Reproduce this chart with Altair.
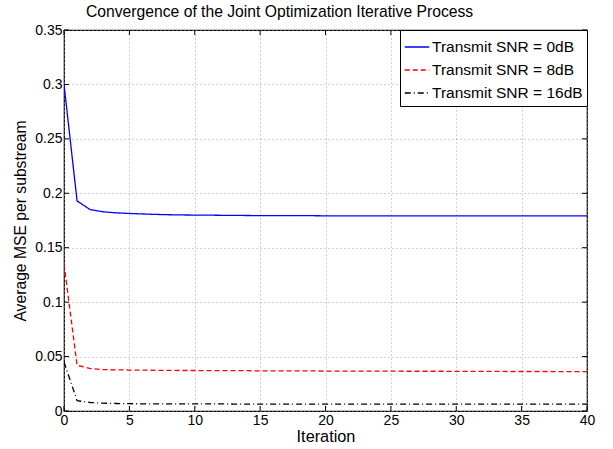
import altair as alt
import pandas as pd

iterations = list(range(41))
snr_0db = [0.300, 0.193, 0.185, 0.183, 0.182, 0.1815, 0.1810, 0.1806, 0.1803, 0.1801,
           0.1800, 0.1799, 0.1798, 0.1797, 0.1796, 0.1795, 0.1795, 0.1794, 0.1794, 0.1794,
           0.1793, 0.1793, 0.1793, 0.1793, 0.1793, 0.1793, 0.1793, 0.1793, 0.1793, 0.1793,
           0.1793, 0.1793, 0.1793, 0.1793, 0.1793, 0.1793, 0.1793, 0.1793, 0.1793, 0.1793, 0.1793]
snr_8db = [0.135, 0.042, 0.039, 0.038, 0.0378, 0.0376, 0.0375, 0.0374, 0.0373, 0.0372,
           0.0372, 0.0371, 0.0371, 0.0370, 0.0370, 0.0369, 0.0369, 0.0368, 0.0368, 0.0368,
           0.0367, 0.0367, 0.0367, 0.0366, 0.0366, 0.0366, 0.0365, 0.0365, 0.0365, 0.0365,
           0.0364, 0.0364, 0.0364, 0.0364, 0.0363, 0.0363, 0.0363, 0.0363, 0.0362, 0.0362, 0.0362]
snr_16db = [0.045, 0.0095, 0.0078, 0.0072, 0.0069, 0.0067, 0.0066, 0.0066, 0.0065, 0.0065,
            0.0065, 0.0065, 0.0065, 0.0064, 0.0064, 0.0064, 0.0064, 0.0064, 0.0064, 0.0064,
            0.0064, 0.0064, 0.0064, 0.0064, 0.0064, 0.0064, 0.0064, 0.0064, 0.0064, 0.0064,
            0.0064, 0.0064, 0.0064, 0.0064, 0.0064, 0.0064, 0.0064, 0.0064, 0.0064, 0.0064, 0.0064]
series_names = ["Transmit SNR = 0dB", "Transmit SNR = 8dB", "Transmit SNR = 16dB"]
series_colors = ["#0000ff", "#ff0000", "#000000"]
series_dashes = [[1, 0], [5, 3], [6, 3, 1, 3]]
x_ticks = list(range(0, 41, 5))
y_ticks = [0, 0.05, 0.1, 0.15, 0.2, 0.25, 0.3, 0.35]

rows = []
for name, vals in zip(series_names, [snr_0db, snr_8db, snr_16db]):
    for it, v in zip(iterations, vals):
        rows.append({"Iteration": it, "MSE": v, "Series": name})
df = pd.DataFrame(rows)
xt = pd.DataFrame({"Iteration": x_ticks})
yt = pd.DataFrame({"MSE": y_ticks})

FONT = "Liberation Sans"
W, H, TL = 523, 381, 5

xs = alt.Scale(domain=[0, 40], nice=False)
ys = alt.Scale(domain=[0, 0.35], nice=False)

lines = alt.Chart(df).mark_line(strokeWidth=1.3, clip=True).encode(
    x=alt.X("Iteration:Q", scale=xs,
            axis=alt.Axis(title="Iteration", values=x_ticks, format="d",
                          labelFlush=False, labelPadding=2, titlePadding=1,
                          titleFontSize=16.3)),
    y=alt.Y("MSE:Q", scale=ys,
            axis=alt.Axis(title="Average MSE per substream", values=y_ticks,
                          labelExpr="datum.value == 0 ? '0' : format(datum.value, '.2~f')",
                          labelPadding=2, titlePadding=6, titleFontSize=15.7)),
    color=alt.Color("Series:N", scale=alt.Scale(domain=series_names, range=series_colors),
                    legend=alt.Legend(title=None, orient="top-right", offset=0,
                                      strokeColor="black", fillColor="white",
                                      padding=4, symbolType="stroke", symbolSize=600,
                                      symbolStrokeWidth=1.3, labelFontSize=15.5,
                                      labelFont=FONT, labelColor="black", rowPadding=1,
                                      labelOffset=2, labelLimit=300)),
    strokeDash=alt.StrokeDash("Series:N", scale=alt.Scale(domain=series_names, range=series_dashes),
                              legend=None),
)

xtick_bot = alt.Chart(xt).mark_rule(color="black", strokeWidth=1).encode(
    x=alt.X("Iteration:Q", scale=xs), y=alt.value(H - TL), y2=alt.value(H))
xtick_top = alt.Chart(xt).mark_rule(color="black", strokeWidth=1).encode(
    x=alt.X("Iteration:Q", scale=xs), y=alt.value(0), y2=alt.value(TL))
ytick_l = alt.Chart(yt).mark_rule(color="black", strokeWidth=1).encode(
    y=alt.Y("MSE:Q", scale=ys), x=alt.value(0), x2=alt.value(TL))
ytick_r = alt.Chart(yt).mark_rule(color="black", strokeWidth=1).encode(
    y=alt.Y("MSE:Q", scale=ys), x=alt.value(W - TL), x2=alt.value(W))

chart = alt.layer(lines, xtick_bot, xtick_top, ytick_l, ytick_r).properties(
    width=W, height=H,
    title=alt.Title("Convergence of the Joint Optimization Iterative Process",
                    fontSize=15.7, font=FONT, fontWeight="normal", offset=7,
                    anchor="start", frame="group", dx=22, dy=5, color="black"),
    padding={"left": 64, "top": 30, "right": 26, "bottom": 38},
    autosize=alt.AutoSizeParams(type="none"),
).configure_view(
    stroke="black", strokeWidth=1.2
).configure_axis(
    grid=True, gridDash=[1, 3], gridColor="#999999", gridOpacity=0.9,
    ticks=False, domain=False, labelFont=FONT, titleFont=FONT,
    labelFontSize=14, titleFontSize=16.3, titleFontWeight="normal", labelColor="black",
    titleColor="black"
)

chart.save("out.html", embed_options={"renderer": "svg", "actions": False})
